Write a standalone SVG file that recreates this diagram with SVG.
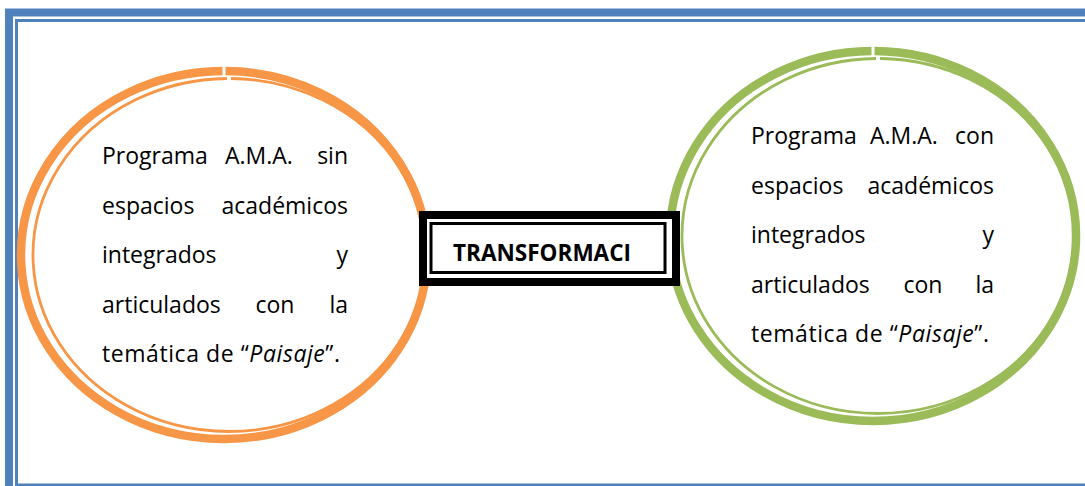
<svg xmlns="http://www.w3.org/2000/svg" width="1085" height="486" viewBox="0 0 1085 486">
<style>
.t{font-family:"Open Sans","Liberation Sans",sans-serif;font-size:23px;fill:#000}
.e{text-anchor:end}
.m{text-anchor:middle}
.b{font-family:"Open Sans","Liberation Sans",sans-serif;font-size:23px;font-weight:bold;fill:#000}
</style>
<rect width="1085" height="486" fill="#fff"/>
<g id="frame" fill="none" stroke="#4f81bd">
<rect x="9" y="12.5" width="1100" height="500" stroke-width="8"/>
<rect x="16.5" y="20.5" width="1100" height="464.5" stroke-width="3"/>
</g>
<g id="left" fill="none" stroke="#f79646">
<path d="M225.5,71 A203,184 0 1 1 222.5,71" stroke-width="8.5"/>
<path d="M231,78.5 A196,176.5 0 1 1 227,78.5" stroke-width="2.8"/>
<text class="t" stroke="none" y="164"><tspan x="102">Programa</tspan><tspan x="225">A.M.A.</tspan><tspan x="348" class="e">sin</tspan></text>
<text class="t" stroke="none" y="213.5"><tspan x="102">espacios</tspan><tspan x="348" class="e">académicos</tspan></text>
<text class="t" stroke="none" y="263"><tspan x="102">integrados</tspan><tspan x="348" class="e">y</tspan></text>
<text class="t" stroke="none" y="312.5"><tspan x="102">articulados</tspan><tspan x="275" class="m">con</tspan><tspan x="348" class="e">la</tspan></text>
<text class="t" stroke="none" y="362" x="102" textLength="238" lengthAdjust="spacing">temática de “<tspan font-style="italic">Paisaje</tspan>”.</text>
</g>
<g id="right" fill="none" stroke="#9bbb59">
<path d="M874.5,51 A203,185 0 1 1 871.5,51" stroke-width="8.5"/>
<path d="M880,58.5 A196,177.5 0 1 1 876,58.5" stroke-width="2.8"/>
<text class="t" stroke="none" y="144"><tspan x="751">Programa</tspan><tspan x="870">A.M.A.</tspan><tspan x="994" class="e">con</tspan></text>
<text class="t" stroke="none" y="193.5"><tspan x="751">espacios</tspan><tspan x="994" class="e">académicos</tspan></text>
<text class="t" stroke="none" y="243"><tspan x="751">integrados</tspan><tspan x="994" class="e">y</tspan></text>
<text class="t" stroke="none" y="292.5"><tspan x="751">articulados</tspan><tspan x="923" class="m">con</tspan><tspan x="994" class="e">la</tspan></text>
<text class="t" stroke="none" y="342" x="751" textLength="238" lengthAdjust="spacing">temática de “<tspan font-style="italic">Paisaje</tspan>”.</text>
</g>
<g id="box">
<rect x="423" y="215" width="253" height="67" fill="#fff" stroke="#000" stroke-width="8"/>
<rect x="431" y="223.5" width="234" height="49" fill="none" stroke="#000" stroke-width="3"/>
<text class="b" x="453" y="261" textLength="178" lengthAdjust="spacingAndGlyphs">TRANSFORMACI</text>
</g>
<g id="connectors"/>
</svg>
